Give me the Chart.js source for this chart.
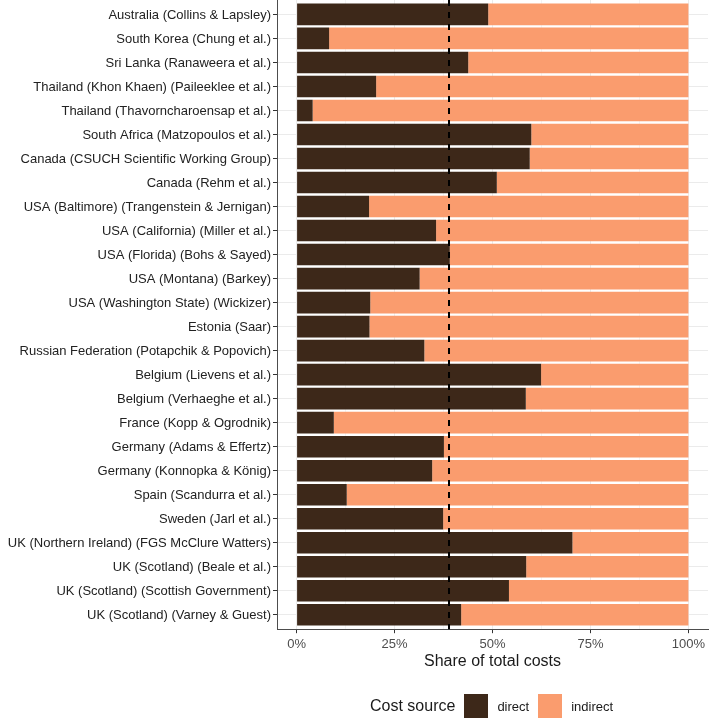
<!DOCTYPE html>
<html>
<head>
<meta charset="utf-8">
<script src="https://cdn.jsdelivr.net/npm/chart.js@4"></script>
<style>
  html, body { margin: 0; padding: 0; background: #fff; }
  #wrap { position: relative; width: 709px; height: 719px; }
  #legend {
    position: absolute; left: 370px; top: 694px; height: 24px;
    display: flex; align-items: center;
    font-family: "Liberation Sans", Arial, sans-serif; color: #1a1a1a;
  }
  #legend .title { font-size: 16px; margin-right: 9px; }
  #legend .sw { width: 24px; height: 24px; margin-right: 9px; }
  #legend .lab { font-size: 13px; margin-right: 9px; }
</style>
</head>
<body>
<div id="wrap">
  <canvas id="chart" width="709" height="719"></canvas>
  <div id="legend"></div>
</div>
<script>
// Categories (top to bottom)
const studies = [
  'Australia (Collins & Lapsley)',
  'South Korea (Chung et al.)',
  'Sri Lanka (Ranaweera et al.)',
  'Thailand (Khon Khaen) (Paileeklee et al.)',
  'Thailand (Thavorncharoensap et al.)',
  'South Africa (Matzopoulos et al.)',
  'Canada (CSUCH Scientific Working Group)',
  'Canada (Rehm et al.)',
  'USA (Baltimore) (Trangenstein & Jernigan)',
  'USA (California) (Miller et al.)',
  'USA (Florida) (Bohs & Sayed)',
  'USA (Montana) (Barkey)',
  'USA (Washington State) (Wickizer)',
  'Estonia (Saar)',
  'Russian Federation (Potapchik & Popovich)',
  'Belgium (Lievens et al.)',
  'Belgium (Verhaeghe et al.)',
  'France (Kopp & Ogrodnik)',
  'Germany (Adams & Effertz)',
  'Germany (Konnopka & König)',
  'Spain (Scandurra et al.)',
  'Sweden (Jarl et al.)',
  'UK (Northern Ireland) (FGS McClure Watters)',
  'UK (Scotland) (Beale et al.)',
  'UK (Scotland) (Scottish Government)',
  'UK (Scotland) (Varney & Guest)'
];

// Share of total costs (%)
const directShare = [48.9, 8.3, 43.8, 20.3, 4.1, 59.9, 59.5, 51.1, 18.5, 35.6, 39.1, 31.4, 18.8,
                     18.6, 32.6, 62.4, 58.5, 9.5, 37.6, 34.6, 12.8, 37.4, 70.4, 58.6, 54.2, 42.0];
const indirectShare = [51.1, 91.7, 56.2, 79.7, 95.9, 40.1, 40.5, 48.9, 81.5, 64.4, 60.9, 68.6, 81.2,
                       81.4, 67.4, 37.6, 41.5, 90.5, 62.4, 65.4, 87.2, 62.6, 29.6, 41.4, 45.8, 58.0];

// mean direct share, dashed reference line
const meanDirect = 38.9;

const xTicks = [0, 25, 50, 75, 100];
const xMinor = [12.5, 37.5, 62.5, 87.5];

const colDirect = '#3d2819';
const colIndirect = '#fa9c6e';
const FONT = '"Liberation Sans", Arial, sans-serif';

// dashed line at the mean
const meanLine = {
  id: 'meanLine',
  afterDatasetsDraw(chart) {
    const { ctx, chartArea: a, scales } = chart;
    const x = scales.x.getPixelForValue(meanDirect);
    ctx.save();
    ctx.strokeStyle = '#000';
    ctx.lineWidth = 2;
    ctx.setLineDash([6, 6]);
    ctx.beginPath();
    ctx.moveTo(x, a.top);
    ctx.lineTo(x, a.bottom);
    ctx.stroke();
    ctx.restore();
  }
};

new Chart(document.getElementById('chart'), {
  type: 'bar',
  data: {
    datasets: [
      { label: 'direct', data: directShare.map((v, i) => ({ x: v, y: i })), backgroundColor: colDirect },
      { label: 'indirect', data: indirectShare.map((v, i) => ({ x: v, y: i })), backgroundColor: colIndirect }
    ]
  },
  options: {
    indexAxis: 'y',
    responsive: false,
    animation: false,
    devicePixelRatio: 1,
    layout: { padding: { top: 0, right: 1, bottom: 45, left: 0 } },
    datasets: { bar: { barPercentage: 0.9, categoryPercentage: 1 } },
    plugins: { legend: { display: false }, tooltip: { enabled: false } },
    scales: {
      x: {
        type: 'linear',
        stacked: true,
        min: -5,
        max: 105,
        afterBuildTicks(scale) {
          scale.ticks = xTicks.concat(xMinor).sort((a, b) => a - b).map(v => ({ value: v }));
        },
        grid: {
          color: ctx => (ctx.tick && xTicks.includes(ctx.tick.value)) ? '#ebebeb' : '#f4f4f4',
          tickColor: ctx => (ctx.tick && xTicks.includes(ctx.tick.value)) ? '#333' : 'rgba(0,0,0,0)',
          tickLength: 4,
          lineWidth: 1
        },
        border: { display: true, color: '#4d4d4d', width: 1 },
        ticks: {
          autoSkip: false,
          maxRotation: 0,
          color: '#4d4d4d',
          font: { family: FONT, size: 13 },
          padding: 3,
          callback: v => xTicks.includes(v) ? v + '%' : ''
        },
        title: {
          display: true,
          text: 'Share of total costs',
          color: '#1a1a1a',
          font: { family: FONT, size: 16 },
          padding: { top: -3, bottom: 3 }
        },
        afterFit(scale) { scale.paddingLeft = 0; scale.paddingRight = 0; }
      },
      y: {
        type: 'linear',
        stacked: true,
        reverse: true,
        offset: false,
        min: -0.6,
        max: studies.length - 0.4,
        afterBuildTicks(scale) {
          scale.ticks = studies.map((s, i) => ({ value: i }));
        },
        grid: { offset: false, color: '#ebebeb', tickColor: '#333', tickLength: 4 },
        border: { display: true, color: '#4d4d4d', width: 1 },
        ticks: {
          color: '#222',
          font: { family: FONT, size: 13 },
          padding: 2,
          labelOffset: 1,
          autoSkip: false,
          callback: v => studies[v]
        },
        afterFit(scale) {
          scale.width = 277;
          scale.paddingTop = 0;
          scale.paddingBottom = 0;
        }
      }
    }
  },
  plugins: [meanLine]
});

// legend
const legend = document.getElementById('legend');
legend.innerHTML = '<span class="title">Cost source</span>' +
  '<span class="sw" style="background:' + colDirect + '"></span><span class="lab">direct</span>' +
  '<span class="sw" style="background:' + colIndirect + '"></span><span class="lab">indirect</span>';
</script>
</body>
</html>
